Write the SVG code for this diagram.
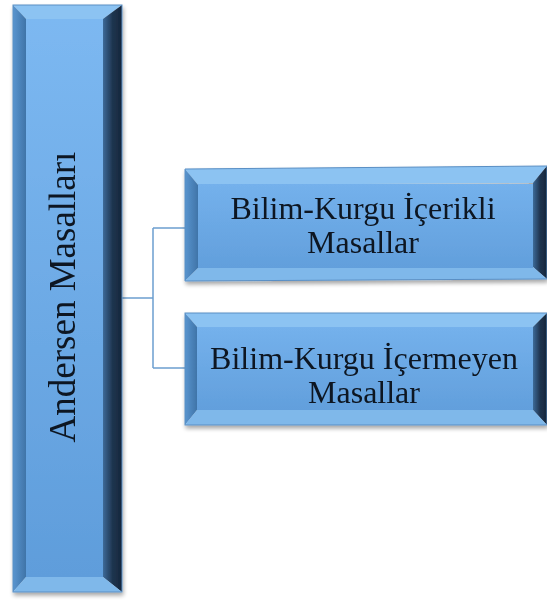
<svg xmlns="http://www.w3.org/2000/svg" width="547" height="603" viewBox="0 0 547 603">
<defs>
<linearGradient id="face" x1="0" y1="0" x2="0" y2="1">
<stop offset="0" stop-color="#74b1ec"/><stop offset="1" stop-color="#629fdc"/>
</linearGradient>
<linearGradient id="faceV" x1="0" y1="0" x2="0" y2="1">
<stop offset="0" stop-color="#7cb8f1"/><stop offset="1" stop-color="#5f9ddb"/>
</linearGradient>
<linearGradient id="rightB" x1="0" y1="0" x2="1" y2="0">
<stop offset="0" stop-color="#3d6a98"/><stop offset="0.5" stop-color="#1f3550"/><stop offset="1" stop-color="#16263a"/>
</linearGradient>
<linearGradient id="leftB" x1="0" y1="0" x2="1" y2="0">
<stop offset="0" stop-color="#5a95cf"/><stop offset="1" stop-color="#3f74a8"/>
</linearGradient>
<filter id="sh" x="-10%" y="-10%" width="120%" height="120%">
<feGaussianBlur in="SourceAlpha" stdDeviation="2"/>
<feOffset dx="1" dy="3"/>
<feComponentTransfer><feFuncA type="linear" slope="0.35"/></feComponentTransfer>
<feMerge><feMergeNode/><feMergeNode in="SourceGraphic"/></feMerge>
</filter>
</defs>
<style>
.top{fill:#8cc3f2}
.bot{fill:#7fb8ea}
.lft{fill:url(#leftB)}
.rgt{fill:url(#rightB)}
.face{fill:url(#face)}
.edge{fill:none;stroke:#5a8fc4;stroke-width:1}
.lbl{font-family:"Liberation Serif","Times New Roman",serif;fill:#0d1520;text-anchor:middle}
.conn{fill:none;stroke:#6c9fcf;stroke-width:1.5}
</style>
<g id="connectors">
<path class="conn" d="M122,298 H153 M153,228 V368 M153,228 H185 M153,368 H185"/>
</g>
<g id="main" filter="url(#sh)">
<polygon class="top" points="13,5 122,5 103,19 26,19"/>
<polygon class="lft" points="13,5 26,19 26,577 13,592"/>
<polygon class="rgt" points="122,5 122,592 103,577 103,19"/>
<polygon class="bot" points="13,592 26,577 103,577 122,592"/>
<rect class="face" x="26" y="19" width="77" height="558" style="fill:url(#faceV)"/>
<rect class="edge" x="13" y="5" width="109" height="587"/>
<text class="lbl" font-size="37" transform="translate(75,297) rotate(-90)">Andersen Masalları</text>
</g>
<g id="box1" filter="url(#sh)">
<polygon class="top" points="185,169 547,166 533,183 198,185"/>
<polygon class="lft" points="185,169 198,185 198,268 185,281"/>
<polygon class="rgt" points="547,166 547,279 533,267 533,183"/>
<polygon class="bot" points="185,281 198,268 533,267 547,279"/>
<rect class="face" x="198" y="184" width="335" height="84"/>
<polygon class="edge" points="185,169 547,166 547,279 185,281"/>
<text class="lbl" font-size="32" x="363" y="219">Bilim-Kurgu İçerikli</text>
<text class="lbl" font-size="32" x="363" y="253">Masallar</text>
</g>
<g id="box2" filter="url(#sh)">
<polygon class="top" points="185,313 547,313 533,327 197,327"/>
<polygon class="lft" points="185,313 197,327 197,410 185,425"/>
<polygon class="rgt" points="547,313 547,425 533,410 533,327"/>
<polygon class="bot" points="185,425 197,410 533,410 547,425"/>
<rect class="face" x="197" y="327" width="336" height="83"/>
<rect class="edge" x="185" y="313" width="362" height="112"/>
<text class="lbl" font-size="32" x="364" y="369">Bilim-Kurgu İçermeyen</text>
<text class="lbl" font-size="32" x="364" y="403">Masallar</text>
</g>
</svg>
